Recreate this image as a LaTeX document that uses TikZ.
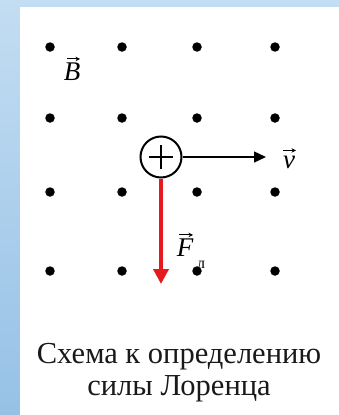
\documentclass[tikz,border=0pt]{standalone}
\usepackage{fontspec}
\setmainfont{Liberation Serif}
\usetikzlibrary{arrows.meta}
\begin{document}
\begin{tikzpicture}[x=1pt,y=-1pt,
  dotnode/.style={circle,fill=black,inner sep=0pt,minimum size=9.5pt},
  lbl/.style={font=\fontsize{27}{30}\selectfont\itshape, inner sep=0pt},
  accarrow/.style={line width=1pt,-{Stealth[length=4.5pt,width=4.5pt]}},
  captxt/.style={font=\fontsize{30.5}{34}\selectfont, inner sep=0pt, anchor=base, text=black!90},
  vline/.style={line width=1.4pt,-{Triangle[length=12pt,width=11pt]}},
  fline/.style={line width=4pt,draw={rgb,255:red,230;green,25;blue,30},-{Triangle[length=15pt,width=15pt]}}]
\useasboundingbox (0,0) rectangle (339,415);
\shade[top color={rgb,255:red,195;green,221;blue,242}, bottom color={rgb,255:red,150;green,193;blue,230}] (0,0) rectangle (339,415);
\fill[white] (20,7) rectangle (339,415);
% dots
\foreach \i/\x in {1/50,2/122,3/197,4/275}{
  \foreach \j/\y in {1/47,2/118,3/192,4/271}{
    \node[dotnode] (d\i\j) at (\x,\y) {};
  }
}
% charge
\node[circle,draw,line width=2pt,minimum size=41pt,inner sep=0pt] (q) at (161,157) {};
\draw[line width=2pt] ([xshift=-12pt]q.center) -- ([xshift=12pt]q.center);
\draw[line width=2pt] ([yshift=-12pt]q.center) -- ([yshift=12pt]q.center);
% velocity
\coordinate (vtip) at (266,157);
\draw[vline] (q.east) -- (vtip);
\node[lbl] (vl) at (289,162) {v};
\draw[accarrow] ([xshift=-6pt,yshift=5pt]vl.north) -- ([xshift=7pt,yshift=5pt]vl.north);
% force
\coordinate (ftip) at (161,284);
\draw[fline] (q.south) -- (ftip);
\node[lbl] (fl) at (185,248) {F};
\draw[accarrow] ([xshift=-6pt,yshift=4pt]fl.north) -- ([xshift=8pt,yshift=4pt]fl.north);
\node[font=\fontsize{16}{18}\selectfont, inner sep=0pt] (fsub) at (201,265) {л};
% field
\node[lbl] (bl) at (72,72) {B};
\draw[accarrow] ([xshift=-5pt,yshift=4pt]bl.north) -- ([xshift=8pt,yshift=4pt]bl.north);
% caption
\node[captxt] (c1) at (179,363) {Схема к определению};
\node[captxt] (c2) at (179,395) {силы Лоренца};
\end{tikzpicture}
\end{document}
